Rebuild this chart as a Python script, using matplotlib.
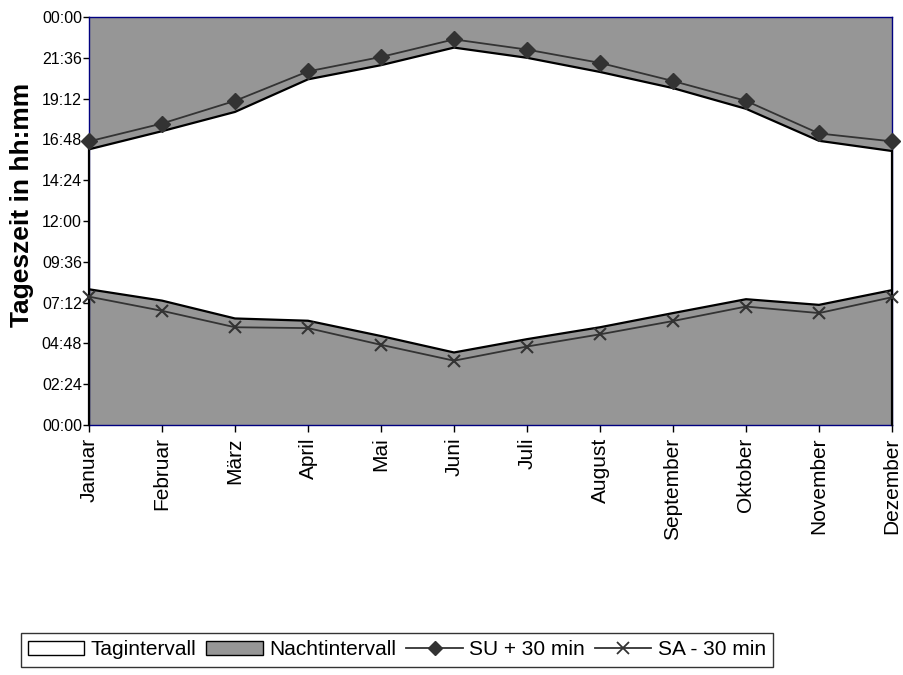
import numpy as np
import matplotlib
matplotlib.use("Agg")
import matplotlib.pyplot as plt
from matplotlib.patches import Patch
from matplotlib.lines import Line2D
from matplotlib.ticker import FuncFormatter, MultipleLocator

plt.rcParams['font.family'] = ['Liberation Sans', 'DejaVu Sans']

monate = ['Januar', 'Februar', 'März', 'April', 'Mai', 'Juni', 'Juli',
          'August', 'September', 'Oktober', 'November', 'Dezember']

# Sonnenaufgang / Sonnenuntergang (hh:mm)
sonnenaufgang = ['07:59', '07:19', '06:16', '06:08', '05:14', '04:16',
                 '05:03', '05:45', '06:35', '07:24', '07:04', '07:56']
sonnenuntergang = ['16:13', '17:17', '18:25', '20:20', '21:10', '22:12',
                   '21:36', '20:46', '19:49', '18:36', '16:43', '16:07']

# Linien SU + 30 min / SA - 30 min
su_plus_30 = ['16:41', '17:44', '19:04', '20:48', '21:39', '22:41',
              '22:05', '21:18', '20:14', '19:04', '17:09', '16:41']
sa_minus_30 = ['07:33', '06:43', '05:45', '05:42', '04:43', '03:47',
               '04:37', '05:20', '06:07', '06:58', '06:35', '07:31']


def in_stunden(werte):
    return np.array([int(w[:2]) + int(w[3:]) / 60 for w in werte])


def hhmm(v, pos=None):
    m = int(round(v * 60))
    return f"{(m // 60) % 24:02d}:{m % 60:02d}"


sa = in_stunden(sonnenaufgang)
su = in_stunden(sonnenuntergang)
su30 = in_stunden(su_plus_30)
sa30 = in_stunden(sa_minus_30)
x = np.arange(len(monate))

grau = '#969696'
linie = '#333333'
navy = '#000080'

fig = plt.figure(figsize=(9.04, 6.75), dpi=100)
ax = fig.add_axes([89 / 904, 1 - 425 / 675, 803 / 904, 408 / 675])

# gestapelte Flächen: Nacht bis SA, Tag, Nacht ab SU
ax.stackplot(x, sa, su - sa, 24 - su, colors=[grau, 'white', grau], lw=0)
ax.plot(x, sa, color='black', lw=1.6, zorder=3)
ax.plot(x, su, color='black', lw=1.6, zorder=3)
ax.plot([x[0], x[0]], [0, su[0]], color='black', lw=1.6, zorder=3, clip_on=False)
ax.plot([x[-1], x[-1]], [0, su[-1]], color='black', lw=1.6, zorder=3, clip_on=False)

ax.plot(x, su30, color=linie, lw=1.3, marker='D', ms=8, mfc=linie, mec=linie,
        zorder=4, clip_on=False)
ax.plot(x, sa30, color=linie, lw=1.3, marker='x', ms=9, mew=1.5, mec=linie,
        zorder=4, clip_on=False)

ax.set_xlim(x[0], x[-1])
ax.set_ylim(0, 24)
ax.yaxis.set_major_locator(MultipleLocator(2.4))
ax.yaxis.set_major_formatter(FuncFormatter(hhmm))
ax.set_xticks(x)
ax.set_xticklabels(monate, rotation=90, fontsize=15)
ax.tick_params(axis='y', labelsize=11.5, length=4, width=1, direction='out', pad=1)
ax.tick_params(axis='x', length=5, width=1, direction='out', pad=4)
for s in ax.spines.values():
    s.set_color(navy)
    s.set_linewidth(1)
ax.set_ylabel('Tageszeit in hh:mm', fontsize=19, fontweight='bold')
ax.yaxis.set_label_coords(-0.068, 0.54)

handles = [
    Patch(facecolor='white', edgecolor='black', lw=1, label='Tagintervall'),
    Patch(facecolor=grau, edgecolor='black', lw=1, label='Nachtintervall'),
    Line2D([], [], color=linie, lw=1.3, marker='D', ms=7, label='SU + 30 min'),
    Line2D([], [], color=linie, lw=1.3, marker='x', ms=8, mew=1.3,
           label='SA - 30 min'),
]
leg = fig.legend(handles=handles, loc='upper right', bbox_to_anchor=(773 / 904, 1 - 633 / 675),
                 ncol=4, fontsize=15, frameon=True, fancybox=False, borderpad=0.35,
                 handlelength=2.7, handletextpad=0.3, columnspacing=0.5,
                 handleheight=0.6, borderaxespad=0)
leg.get_frame().set_edgecolor('black')
leg.get_frame().set_linewidth(1)

fig.savefig('out.png', dpi=100)
